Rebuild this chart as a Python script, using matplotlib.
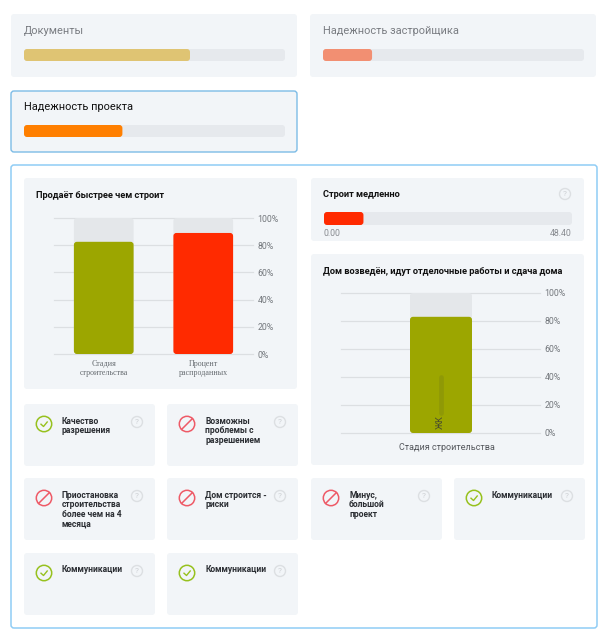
import matplotlib
matplotlib.use("Agg")
import matplotlib.pyplot as plt
from matplotlib.patches import FancyBboxPatch, Circle

plt.rcParams['font.family'] = ['Roboto', 'DejaVu Sans']

# data
top_titles = ["Документы", "Надежность застройщика", "Надежность проекта"]
top_values = [63.6, 18.8, 37.7]
top_colors = ['#dfc473', '#f28f72', '#ff7f00']

sales_labels = ["Стадия\nстроительства", "Процент\nраспроданных"]
sales_values = [82.5, 89]
sales_colors = ['#9ca600', '#ff2a00']

slow_value = 7.7
slow_max = 48.4

stage_labels = ["Стадия строительства"]
stage_values = [83]
stage_colors = ['#9ca600']

pct_ticks = [0, 20, 40, 60, 80, 100]

note_labels = ["Качество\nразрешения", "Возможны\nпроблемы с\nразрешением",
               "Приостановка\nстроительства\nболее чем на 4\nмесяца", "Дом строится -\nриски",
               "Минус,\nбольшой\nпроект", "Коммуникации", "Коммуникации", "Коммуникации"]
note_ok = [True, False, False, False, False, True, True, True]

W, H = 610, 643
CARD = '#f2f5f8'
TRACK = '#e6e9ed'
GRID = '#dcdfe2'
TITLE_SIZE = 6.65

fig = plt.figure(figsize=(W / 100, H / 100), dpi=100, facecolor='white')
bg = fig.add_axes([0, 0, 1, 1])
bg.set_xlim(0, W); bg.set_ylim(H, 0); bg.axis('off')


def card(x0, y0, x1, y1, fc=CARD, ec='none', lw=0, r=3):
    bg.add_patch(FancyBboxPatch((x0, y0), x1 - x0, y1 - y0, boxstyle=f"round,pad=0,rounding_size={r}",
                                fc=fc, ec=ec, lw=lw))


def px_axes(x0, y0, x1, y1):
    return fig.add_axes([x0 / W, 1 - y1 / H, (x1 - x0) / W, (y1 - y0) / H])


def round_bar(ax, x, y, w, h, color, r_px=3, zorder=3):
    # rounded bar in data units, corner radius given in pixels
    box = ax.get_window_extent()
    xl = ax.get_xlim(); yl = ax.get_ylim()
    ux = box.width / (xl[1] - xl[0])
    uy = box.height / (yl[1] - yl[0])
    ax.add_patch(FancyBboxPatch((x, y), w, h, boxstyle=f"round,pad=0,rounding_size={r_px / ux}",
                                mutation_aspect=ux / uy, fc=color, ec='none', zorder=zorder))


def progress(x0, y0, x1, y1, value, vmax, color):
    ax = px_axes(x0, y0, x1, y1)
    ax.set_xlim(0, vmax); ax.set_ylim(0, 1); ax.axis('off')
    round_bar(ax, 0, 0, vmax, 1, TRACK, zorder=2)
    round_bar(ax, 0, 0, value, 1, color)


def pct_chart(x0, y0, x1, y1, xlim, positions, values, colors, width):
    ax = px_axes(x0, y0, x1, y1)
    ax.set_xlim(*xlim); ax.set_ylim(0, 100)
    ax.patch.set_alpha(0)
    for s in ax.spines.values():
        s.set_visible(False)
    ax.yaxis.tick_right()
    ax.set_yticks(pct_ticks, [f"{t}%" for t in pct_ticks])
    ax.tick_params(axis='y', length=0, pad=3.2, labelsize=6.3, labelcolor='#74787d')
    ax.set_xticks([])
    ax.grid(axis='y', color=GRID, lw=0.9)
    ax.set_axisbelow(True)
    for c in ax.get_ygridlines():
        c.set_clip_on(False)
    for p, v, col in zip(positions, values, colors):
        round_bar(ax, p - width / 2, 0, width, 100, '#e4e7ea', zorder=2)
        round_bar(ax, p - width / 2, 0, width, v, col)
    return ax


def help_mark(x, y):
    bg.add_patch(Circle((x, y), 5.5, fc='none', ec='#dcdfe2', lw=1))
    bg.text(x, y + 0.3, "?", ha='center', va='center', fontsize=6, color='#cdd0d4')


def note(x, y, label, ok):
    card(x, y, x + 131, y + 62)
    cx, cy = x + 20, y + 20
    col = '#97c11e' if ok else '#ee5a67'
    bg.add_patch(Circle((cx, cy), 7.7, fc='none', ec=col, lw=1.1))
    if ok:
        bg.plot([cx - 3, cx - 0.5, cx + 3.2], [cy + 0.2, cy + 2.5, cy - 2], color=col, lw=1.0)
    else:
        bg.plot([cx - 5.4, cx + 5.4], [cy + 5.4, cy - 5.4], color=col, lw=1.1)
    for i, line in enumerate(label.split("\n")):
        bg.text(x + 38, y + 17 + i * 9.7, line, fontsize=6.15, weight='bold', color='#2a2d32', va='center')
    help_mark(x + 113, y + 18)


# top cards
card(11, 14, 297, 77)
card(310, 14, 596, 77)
card(11, 91, 297, 152, ec='#7dbce6', lw=1.0)
bg.text(24, 31.5, top_titles[0], fontsize=7.95, color='#7a7d82', va='center')
bg.text(323, 31.5, top_titles[1], fontsize=7.95, color='#7a7d82', va='center')
bg.text(24, 107.5, top_titles[2], fontsize=7.9, color='#111111', va='center')
progress(24, 49, 285, 61, top_values[0], 100, top_colors[0])
progress(323, 49, 584, 61, top_values[1], 100, top_colors[1])
progress(24, 125, 285, 137, top_values[2], 100, top_colors[2])

# big frame
card(11, 165, 597, 628, fc='white', ec='#90cdf5', lw=1.1)

# sales vs construction
card(24, 178, 297, 389)
bg.text(36, 195, "Продаёт быстрее чем строит", fontsize=TITLE_SIZE, weight='bold', color='#111111', va='center')
pct_chart(54, 218, 253, 354, (-0.5, 1.5), [0, 1], sales_values, sales_colors, 0.6)
for px, lab in zip([104, 203], sales_labels):
    bg.text(px, 368.5, lab, fontsize=5.8, family='Liberation Serif', color='#666b70', ha='center', va='center',
            linespacing=1.1)

# slow building
card(311, 178, 584, 241)
bg.text(323, 194.5, "Строит медленно", fontsize=TITLE_SIZE, weight='bold', color='#111111', va='center')
help_mark(565, 194)
progress(324, 212, 572, 225, slow_value, slow_max, sales_colors[1])
bg.text(324, 233, f"{0:.2f}", fontsize=6.3, color='#888b90', va='center')
bg.text(572, 233, f"{slow_max:.2f}", fontsize=6.3, color='#888b90', va='center', ha='right')

# stage chart
card(311, 254, 584, 465)
bg.text(323, 271, "Дом возведён, идут отделочные работы и сдача дома", fontsize=TITLE_SIZE, weight='bold',
        color='#111111', va='center')
ax = pct_chart(341, 293, 540, 433, (0, 199), [100], stage_values, stage_colors, 62)
bg.text(447, 448, stage_labels[0], fontsize=6.5, color='#55585d', ha='center', va='center')
# blurred name inside the bar
ax.text(0.5, 0.03, "ЖК", transform=ax.transAxes, rotation=90, fontsize=6.5, color='#4b4f2c',
        ha='center', va='bottom', zorder=5)
ax.plot([99.5, 99.5], [0.14, 0.40], color='#5f6620', lw=3.4, alpha=0.2, zorder=5, solid_capstyle='round',
        transform=ax.get_xaxis_transform())

# small cards
note_x = [24, 167, 24, 167, 311, 454, 24, 167]
note_y = [404, 404, 478, 478, 478, 478, 553, 553]
for x, y, label, ok in zip(note_x, note_y, note_labels, note_ok):
    note(x, y, label, ok)

fig.savefig("out.png", dpi=100)
